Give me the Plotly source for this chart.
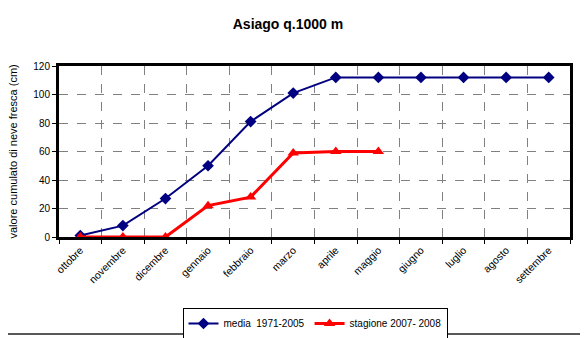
import plotly.graph_objects as go

months = ["ottobre", "novembre", "dicembre", "gennaio", "febbraio", "marzo",
          "aprile", "maggio", "giugno", "luglio", "agosto", "settembre"]
media = [1, 8, 27, 50, 81, 101, 112, 112, 112, 112, 112, 112]
stagione = [0, 0, 0, 22, 28, 59, 60, 60]

# page body has an 8px offset, so the figure is 8px smaller and shifted
W, H = 580, 330
L, R, T, B = 51, 562, 58, 229
PW, PH = R - L, B - T

fig = go.Figure()
fig.add_trace(go.Scatter(
    x=months, y=media, name="media  1971-2005", mode="lines+markers",
    line=dict(color="#000080", width=2),
    marker=dict(symbol="diamond", size=9, color="#000080")))
fig.add_trace(go.Scatter(
    x=months[:len(stagione)], y=stagione, name="stagione 2007- 2008", mode="lines+markers",
    line=dict(color="#ff0000", width=3),
    marker=dict(symbol="triangle-up", size=10, color="#ff0000")))

font = "Liberation Sans, Arial, sans-serif"
fig.update_layout(
    width=W, height=H,
    margin=dict(l=L, r=W - R, t=T, b=H - B, autoexpand=False),
    paper_bgcolor="white", plot_bgcolor="white",
    font=dict(family=font, size=10, color="black"),
    title=dict(text="<b>Asiago q.1000 m</b>", xref="container", x=280 / W, xanchor="center",
               yref="container", y=1 - 16 / H, yanchor="middle",
               font=dict(size=14, family=font)),
    showlegend=True,
    legend=dict(orientation="h", xref="paper", x=(307 - L) / PW, xanchor="center",
                yref="container", y=1 - 300 / H, yanchor="top",
                bordercolor="black", borderwidth=1, font=dict(size=10),
                itemwidth=30, tracegroupgap=0),
    xaxis=dict(type="category", tickson="boundaries", ticks="outside", ticklen=4,
               tickcolor="black", tickangle=-45, showgrid=True, gridcolor="#808080",
               griddash="dash", gridwidth=1, showline=True, linecolor="black",
               linewidth=3, mirror=True, tickfont=dict(size=10.5), range=[-0.5, 11.5],
               automargin=False),
    yaxis=dict(range=[0, 120], dtick=20, ticks="outside", ticklen=4, tickcolor="black",
               showgrid=True, gridcolor="#808080", griddash="dash", gridwidth=1,
               showline=True, linecolor="black", linewidth=3, mirror=True,
               zeroline=False, tickfont=dict(size=10), automargin=False),
)
fig.add_annotation(text="valore cumulato di neve fresca (cm)", xref="paper", yref="paper",
                   x=(4 - L) / PW, y=0.5, xanchor="center", yanchor="middle",
                   textangle=-90, showarrow=False, font=dict(size=11))
# outer chart frame: right and bottom edges
fx = (576 - L) / PW
fy = (B - 326) / PH
fig.add_shape(type="line", xref="paper", yref="paper", layer="above",
              x0=fx, x1=fx, y0=(B + 5) / PH, y1=fy,
              line=dict(color="#202020", width=1.5))
fig.add_shape(type="line", xref="paper", yref="paper", layer="above",
              x0=-L / PW, x1=fx, y0=fy, y1=fy,
              line=dict(color="#202020", width=1.5))

fig.write_html("out.html")
